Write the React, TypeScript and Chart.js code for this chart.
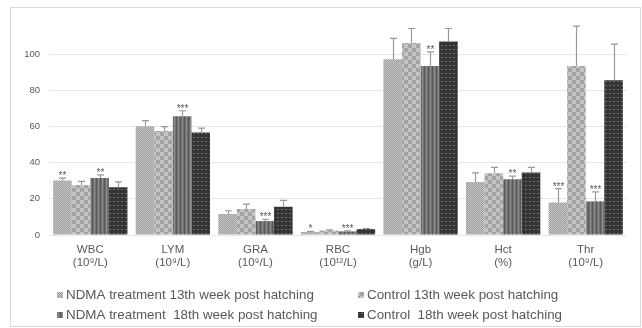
import React, { useEffect, useRef } from 'react';
import { Chart, registerables } from 'chart.js';

Chart.register(...registerables);

// ---- data ----
const categoryNames = ['WBC', 'LYM', 'GRA', 'RBC', 'Hgb', 'Hct', 'Thr'];
const categoryUnits = ['(10⁹/L)', '(10⁹/L)', '(10⁹/L)', '(10¹²/L)', '(g/L)', '(%)', '(10⁹/L)'];

const seriesNames = [
  'NDMA treatment 13th week post hatching',
  'Control 13th week post hatching',
  'NDMA treatment  18th week post hatching',
  'Control  18th week post hatching',
];

const ndma13 = [30.2, 60.2, 11.6, 1.7, 97.2, 29.3, 18.0];
const control13 = [27.6, 57.5, 14.4, 2.5, 106.2, 34.1, 93.5];
const ndma18 = [31.5, 65.7, 7.7, 2.0, 93.5, 30.8, 18.6];
const control18 = [26.4, 56.7, 15.6, 3.3, 107.0, 34.6, 85.6];

const ndma13Err = [1.3, 3.0, 1.8, 0.3, 11.5, 5.0, 7.7];
const control13Err = [2.1, 2.4, 2.7, 0.3, 8.0, 3.3, 22.0];
const ndma18Err = [1.8, 3.0, 1.0, 0.3, 7.8, 1.8, 5.3];
const control18Err = [3.0, 2.4, 3.6, 0.3, 7.2, 2.8, 20.0];

const ndma13Sig = ['**', '', '', '*', '', '', '***'];
const ndma18Sig = ['**', '***', '***', '***', '**', '**', '***'];

const yTicks = [0, 20, 40, 60, 80, 100];
const yMax = 120;

const TEXT = '#595959';

function makePattern(w: number, h: number, draw: (c: CanvasRenderingContext2D) => void) {
  const cv = document.createElement('canvas');
  cv.width = w;
  cv.height = h;
  const c = cv.getContext('2d')!;
  draw(c);
  return c.createPattern(cv, 'repeat')!;
}

export default function App() {
  const ref = useRef<HTMLCanvasElement>(null);

  useEffect(() => {
    const p1 = makePattern(2, 2, (c) => {
      c.fillStyle = '#9c9c9c'; c.fillRect(0, 0, 2, 2);
      c.fillStyle = '#c8c8c8'; c.fillRect(0, 0, 1, 1); c.fillRect(1, 1, 1, 1);
    });
    const p2 = makePattern(8, 8, (c) => {
      c.fillStyle = '#a4a4a4'; c.fillRect(0, 0, 8, 8);
      c.fillStyle = '#c4c4c4'; c.fillRect(0, 0, 4, 4); c.fillRect(4, 4, 4, 4);
    });
    const p3 = makePattern(4, 4, (c) => {
      c.fillStyle = '#5a5a5a'; c.fillRect(0, 0, 1, 4);
      c.fillStyle = '#6e6e6e'; c.fillRect(1, 0, 1, 4);
      c.fillStyle = '#8e8e8e'; c.fillRect(2, 0, 1, 4);
      c.fillStyle = '#707070'; c.fillRect(3, 0, 1, 4);
    });
    const p4 = makePattern(4, 4, (c) => {
      c.fillStyle = '#343434'; c.fillRect(0, 0, 4, 4);
      c.fillStyle = '#6c6c6c'; c.fillRect(1, 1, 2, 1);
    });
    const patterns = [p1, p2, p3, p4];
    const values = [ndma13, control13, ndma18, control18];
    const errors = [ndma13Err, control13Err, ndma18Err, control18Err];
    const sigs: (string[] | null)[] = [ndma13Sig, null, ndma18Sig, null];

    const framePlugin = {
      id: 'frame',
      beforeDraw(chart: any) {
        const ctx = chart.ctx;
        ctx.save();
        ctx.fillStyle = '#ffffff';
        ctx.fillRect(0, 0, chart.width, chart.height);
        ctx.strokeStyle = '#d9d9d9';
        ctx.lineWidth = 1;
        ctx.strokeRect(10.5, 7.5, 630, 319);
        ctx.restore();
      },
    };

    const errPlugin = {
      id: 'errbars',
      afterDatasetsDraw(chart: any) {
        const ctx = chart.ctx;
        const ys = chart.scales.y;
        ctx.save();
        chart.data.datasets.forEach((ds: any, i: number) => {
          const meta = chart.getDatasetMeta(i);
          meta.data.forEach((el: any, j: number) => {
            const v = ds.data[j];
            const top = ys.getPixelForValue(v + errors[i][j]);
            const x = Math.round(el.x) + 0.5;
            ctx.strokeStyle = '#999999';
            ctx.lineWidth = 1.2;
            ctx.beginPath();
            ctx.moveTo(x, el.y);
            ctx.lineTo(x, top);
            ctx.moveTo(x - 3.5, top);
            ctx.lineTo(x + 3.5, top);
            ctx.stroke();
            const s = sigs[i];
            if (s && s[j]) {
              ctx.fillStyle = TEXT;
              ctx.font = '10px "Liberation Sans", Arial, sans-serif';
              ctx.textAlign = 'center';
              ctx.textBaseline = 'alphabetic';
              ctx.fillText(s[j], x, top + 1);
            }
          });
        });
        ctx.restore();
      },
    };

    const legendPlugin = {
      id: 'customLegend',
      afterDraw(chart: any) {
        const ctx = chart.ctx;
        const cols = [57, 358];
        const rows = [295, 315];
        ctx.save();
        ctx.font = '13.4px "Liberation Sans", Arial, sans-serif';
        ctx.textBaseline = 'middle';
        ctx.textAlign = 'left';
        for (let k = 0; k < 4; k++) {
          const cx = cols[k % 2];
          const cy = rows[Math.floor(k / 2)];
          ctx.fillStyle = patterns[k];
          ctx.fillRect(cx, cy - 3, 6, 6);
          ctx.fillStyle = TEXT;
          ctx.fillText(seriesNames[k], cx + 9, cy);
        }
        ctx.restore();
      },
    };

    const chart = new Chart(ref.current!, {
      type: 'bar',
      data: {
        labels: categoryNames.map((n, i) => [n, categoryUnits[i]]),
        datasets: values.map((v, i) => ({
          label: seriesNames[i],
          data: v,
          backgroundColor: patterns[i] as any,
          borderWidth: 0,
          categoryPercentage: 0.9,
          barPercentage: 1.0,
        })),
      },
      options: {
        animation: false,
        responsive: false,
        layout: { padding: { left: 12, right: 15, top: 18, bottom: 0 } },
        plugins: { legend: { display: false }, tooltip: { enabled: false } },
        scales: {
          x: {
            grid: { display: false, drawTicks: false },
            border: { display: false },
            ticks: {
              color: TEXT,
              padding: 9,
              font: { family: '"Liberation Sans", Arial, sans-serif', size: 11.5, lineHeight: 1.1 },
              maxRotation: 0,
              autoSkip: false,
            },
            afterFit(scale: any) { scale.height = 93; },
          },
          y: {
            min: 0,
            max: yMax,
            afterBuildTicks(scale: any) {
              scale.ticks = [...yTicks, yMax].map((v) => ({ value: v }));
            },
            ticks: {
              color: TEXT,
              padding: 9,
              font: { family: '"Liberation Sans", Arial, sans-serif', size: 9.5 },
              callback: (v: any) => (yTicks.includes(Number(v)) ? String(v) : null),
            },
            grid: { color: '#e6e6e6', drawTicks: false, lineWidth: 1 },
            border: { display: false },
            afterFit(scale: any) { scale.width = 37; },
          },
        },
      },
      plugins: [framePlugin, errPlugin, legendPlugin],
    });
    return () => chart.destroy();
  }, []);

  return (
    <div style={{ position: 'fixed', left: 0, top: 0, width: 642, height: 328, background: '#fff' }}>
      <canvas ref={ref} width={642} height={328} style={{ width: 642, height: 328, display: 'block' }} />
    </div>
  );
}
